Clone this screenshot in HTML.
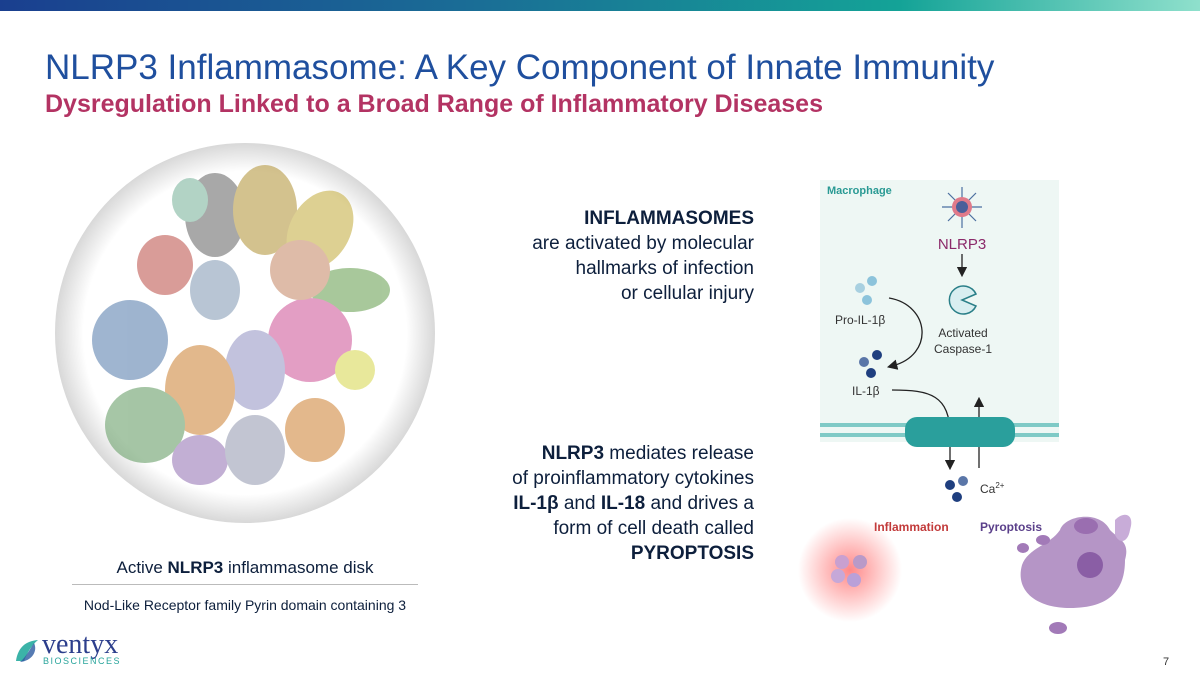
<!DOCTYPE html>
<html><head><meta charset="utf-8"><style>
body{margin:0;width:1200px;height:673px;position:relative;overflow:hidden;background:#fff;font-family:"Liberation Sans",sans-serif}
.a{position:absolute}
.rt{position:absolute;right:446px;text-align:right;font-size:19px;color:#0d1f3c;line-height:25px}
</style></head><body>
<div class="a" style="left:0;top:0;width:1200px;height:11px;background:linear-gradient(90deg,#1a3f8f 0%,#1a6e96 40%,#14a397 75%,#8fe0cc 100%)"></div>
<div class="a" style="left:45px;top:48px;font-size:35px;color:#1f4f9e;white-space:nowrap">NLRP3 Inflammasome: A Key Component of Innate Immunity</div>
<div class="a" style="left:45px;top:90px;font-size:25px;font-weight:bold;color:#b33363;white-space:nowrap">Dysregulation Linked to a Broad Range of Inflammatory Diseases</div>

<svg class="a" style="left:50px;top:140px" width="390" height="390">
<defs><radialGradient id="g" cx="50%" cy="50%" r="50%"><stop offset="85%" stop-color="#fff"/><stop offset="100%" stop-color="#d8d8d8"/></radialGradient></defs>
<circle cx="195" cy="193" r="190" fill="url(#g)"/>
<g opacity="0.6">
<ellipse cx="165" cy="75" rx="30" ry="42" fill="#6f6f6f"/>
<ellipse cx="215" cy="70" rx="32" ry="45" fill="#b79a44"/>
<ellipse cx="270" cy="90" rx="30" ry="42" fill="#c8b24a" transform="rotate(30 270 90)"/>
<ellipse cx="300" cy="150" rx="40" ry="22" fill="#70a55a"/>
<ellipse cx="115" cy="125" rx="28" ry="30" fill="#c05b55"/>
<ellipse cx="140" cy="60" rx="18" ry="22" fill="#7fb7a0"/>
<ellipse cx="80" cy="200" rx="38" ry="40" fill="#5f83b0"/>
<ellipse cx="165" cy="150" rx="25" ry="30" fill="#8aa0b8"/>
<ellipse cx="260" cy="200" rx="42" ry="42" fill="#d25f9e"/>
<ellipse cx="305" cy="230" rx="20" ry="20" fill="#d9d95a"/>
<ellipse cx="205" cy="230" rx="30" ry="40" fill="#9a9ac8"/>
<ellipse cx="150" cy="250" rx="35" ry="45" fill="#d08a40"/>
<ellipse cx="95" cy="285" rx="40" ry="38" fill="#6aa06a"/>
<ellipse cx="150" cy="320" rx="28" ry="25" fill="#9b7bb8"/>
<ellipse cx="205" cy="310" rx="30" ry="35" fill="#9aa0b5"/>
<ellipse cx="265" cy="290" rx="30" ry="32" fill="#d28a40"/>
<ellipse cx="250" cy="130" rx="30" ry="30" fill="#c98f70"/>
</g>
</svg>
<div class="a" style="left:72px;top:558px;width:346px;text-align:center;font-size:17px;color:#0d1f3c">Active <b>NLRP3</b> inflammasome disk</div>
<div class="a" style="left:72px;top:584px;width:346px;height:1px;background:#bbb"></div>
<div class="a" style="left:72px;top:597px;width:346px;text-align:center;font-size:14px;color:#0d1f3c">Nod-Like Receptor family Pyrin domain containing 3</div>

<div class="rt" style="top:206px"><b>INFLAMMASOMES</b><br>are activated by molecular<br>hallmarks of infection<br>or cellular injury</div>
<div class="rt" style="top:441px"><b>NLRP3</b> mediates release<br>of proinflammatory cytokines<br><b>IL-1β</b> and <b>IL-18</b> and drives a<br>form of cell death called<br><b>PYROPTOSIS</b></div>

<svg class="a" style="left:790px;top:170px" width="410" height="480" font-family="Liberation Sans, DejaVu Sans, sans-serif">
<defs><radialGradient id="r"><stop offset="0" stop-color="#ff6b6b" stop-opacity=".8"/><stop offset="1" stop-color="#ff6b6b" stop-opacity="0"/></radialGradient>
<marker id="m" markerWidth="8" markerHeight="8" refX="4" refY="4" orient="auto"><path d="M0,0L8,4L0,8z" fill="#222"/></marker></defs>
<g transform="translate(20,0)">
<rect x="10" y="10" width="239" height="262" fill="#eef7f4"/>
<text x="17" y="24" font-size="11" font-weight="bold" fill="#2a9a94">Macrophage</text>
<g stroke="#4c6fa0" stroke-width="1.2"><line x1="152" y1="17" x2="152" y2="58"/><line x1="132" y1="37" x2="172" y2="37"/><line x1="138" y1="23" x2="166" y2="51"/><line x1="166" y1="23" x2="138" y2="51"/></g>
<circle cx="152" cy="37" r="10" fill="#e07a8a"/><circle cx="152" cy="37" r="6" fill="#4a5f9a"/>
<text x="152" y="79" font-size="15" fill="#8b2a6a" text-anchor="middle">NLRP3</text>
<line x1="152" y1="84" x2="152" y2="102" stroke="#222" stroke-width="1.3" marker-end="url(#m)"/>
<path d="M166,124 L152,130 L166,136 A14,14 0 1 1 166,124z" fill="#d8eef0" stroke="#2a7f88" stroke-width="1.5"/>
<text x="153" y="167" font-size="12" fill="#333" text-anchor="middle">Activated</text>
<text x="153" y="183" font-size="12" fill="#333" text-anchor="middle">Caspase-1</text>
<circle cx="62" cy="111" r="5" fill="#8cc3db"/><circle cx="50" cy="118" r="5" fill="#a8d0e0"/><circle cx="57" cy="130" r="5" fill="#8cc3db"/>
<text x="25" y="154" font-size="12" fill="#333">Pro-IL-1β</text>
<path d="M79,128 C120,135 125,185 82,196" fill="none" stroke="#222" stroke-width="1.3" marker-end="url(#m)"/>
<circle cx="67" cy="185" r="5" fill="#1f3f7f"/><circle cx="54" cy="192" r="5" fill="#5a76a8"/><circle cx="61" cy="203" r="5" fill="#1f3f7f"/>
<text x="42" y="225" font-size="12" fill="#333">IL-1β</text>
<path d="M82,220 C120,220 140,225 140,265 L140,295" fill="none" stroke="#222" stroke-width="1.3" marker-end="url(#m)"/>
<line x1="169" y1="298" x2="169" y2="232" stroke="#222" stroke-width="1.3" marker-end="url(#m)"/>
<rect x="10" y="253" width="239" height="4" fill="#7fcac6"/><rect x="10" y="263" width="239" height="4" fill="#7fcac6"/>
<rect x="95" y="247" width="110" height="30" rx="12" fill="#2a9f9c"/>
<circle cx="140" cy="315" r="5" fill="#1f3f7f"/><circle cx="153" cy="311" r="5" fill="#5a76a8"/><circle cx="147" cy="327" r="5" fill="#1f3f7f"/>
<text x="170" y="323" font-size="12" fill="#333">Ca<tspan font-size="8" dy="-5">2+</tspan></text>
<text x="64" y="361" font-size="12" font-weight="bold" fill="#c23a3a">Inflammation</text>
<text x="170" y="361" font-size="12" font-weight="bold" fill="#5a3f8a">Pyroptosis</text>
<circle cx="40" cy="400" r="52" fill="url(#r)"/>
<circle cx="32" cy="392" r="7" fill="#c9a0d0"/><circle cx="50" cy="392" r="7" fill="#b99ac8"/><circle cx="28" cy="406" r="7" fill="#c6a8d8"/><circle cx="44" cy="410" r="7" fill="#b9a0d8"/>
<path d="M250,360 C255,345 290,340 300,360 C310,370 320,372 315,390 C315,420 300,438 260,438 C225,438 205,420 212,395 C218,378 240,375 250,360z" fill="#a27ab8" opacity=".8"/>
<path d="M305,350 C315,340 325,345 320,360 C318,372 310,375 305,365z" fill="#c8acd8"/>
<circle cx="280" cy="395" r="13" fill="#8a5ea5"/>
<ellipse cx="276" cy="356" rx="12" ry="8" fill="#9a6eb0"/>
<ellipse cx="233" cy="370" rx="7" ry="5" fill="#a27ab8"/><ellipse cx="248" cy="458" rx="9" ry="6" fill="#a27ab8"/><ellipse cx="213" cy="378" rx="6" ry="5" fill="#a27ab8"/>
</g>
</svg>

<svg class="a" style="left:12px;top:637px" width="30" height="28"><path d="M4,24 C6,10 14,4 26,3 C20,8 16,14 12,24z" fill="#3bb3a8"/><path d="M8,25 C14,20 18,12 22,6 C26,14 20,24 8,25z" fill="#2c5aa0" opacity=".8"/></svg>
<div class="a" style="left:42px;top:629px;font-family:'Liberation Serif',serif;font-size:28px;color:#2c3e8c">ventyx</div>
<div class="a" style="left:43px;top:656px;font-size:9px;letter-spacing:1.5px;color:#2aa59c">BIOSCIENCES</div>
<div class="a" style="left:1163px;top:656px;font-size:11px;color:#333">7</div>
</body></html>
